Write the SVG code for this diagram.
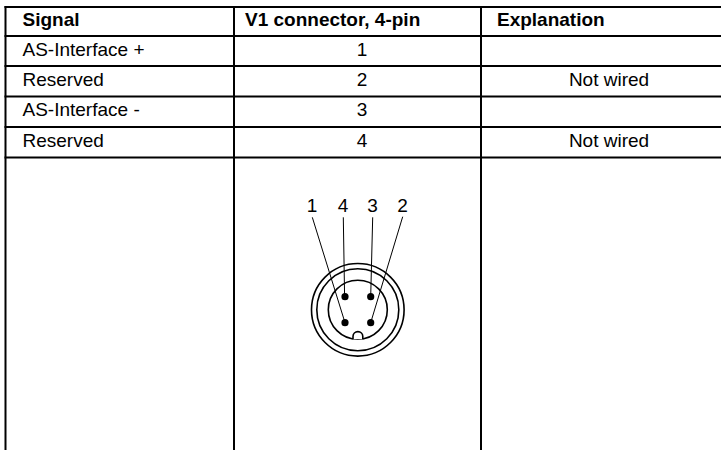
<svg xmlns="http://www.w3.org/2000/svg" width="721" height="450" viewBox="0 0 721 450">
<style>
.grid{stroke:#000;stroke-width:2;fill:none}
.t{font-family:"Liberation Sans",Arial,sans-serif;font-size:19px;fill:#000}
.b{font-weight:bold}
.m{text-anchor:middle}
.thin{stroke:#000;stroke-width:1;fill:none}
.ring{stroke:#000;stroke-width:1.6;fill:none}
</style>
<rect width="721" height="450" fill="#fff"/>
<g id="table-grid" class="grid">
<line x1="4.5" y1="7" x2="721" y2="7"/>
<line x1="4.5" y1="36" x2="721" y2="36"/>
<line x1="4.5" y1="66" x2="721" y2="66"/>
<line x1="4.5" y1="96.5" x2="721" y2="96.5"/>
<line x1="4.5" y1="127" x2="721" y2="127"/>
<line x1="4.5" y1="157.5" x2="721" y2="157.5"/>
<line x1="5.5" y1="6" x2="5.5" y2="450"/>
<line x1="234" y1="6" x2="234" y2="450"/>
<line x1="481" y1="6" x2="481" y2="450"/>
</g>
<g id="header">
<text class="t b" x="22.5" y="26">Signal</text>
<text class="t b" x="245" y="26">V1 connector, 4-pin</text>
<text class="t b" x="497" y="26">Explanation</text>
</g>
<g id="row1">
<text class="t" x="22.5" y="55.5">AS-Interface +</text>
<text class="t m" x="362" y="55.5">1</text>
</g>
<g id="row2">
<text class="t" x="22.5" y="85.5">Reserved</text>
<text class="t m" x="362" y="85.5">2</text>
<text class="t m" x="609" y="85.5">Not wired</text>
</g>
<g id="row3">
<text class="t" x="22.5" y="116">AS-Interface -</text>
<text class="t m" x="362" y="116">3</text>
</g>
<g id="row4">
<text class="t" x="22.5" y="146.5">Reserved</text>
<text class="t m" x="362" y="146.5">4</text>
<text class="t m" x="609" y="146.5">Not wired</text>
</g>
<g id="connector">
<circle class="ring" cx="357.8" cy="309.8" r="46.3"/>
<circle class="ring" cx="357.8" cy="309.8" r="41"/>
<circle class="ring" cx="357.8" cy="309.8" r="29.5"/>
<path d="M353 339.2 L353 336.5 A4.9 4.9 0 0 1 362.8 336.5 L362.8 339.2" fill="#fff" stroke="#000" stroke-width="1.6"/>
<circle cx="345" cy="296.7" r="3.6"/>
<circle cx="370.7" cy="296.7" r="3.6"/>
<circle cx="345" cy="322.7" r="3.6"/>
<circle cx="370.7" cy="322.7" r="3.6"/>
<text class="t m" x="312" y="212">1</text>
<text class="t m" x="343" y="212">4</text>
<text class="t m" x="372.5" y="212">3</text>
<text class="t m" x="402.5" y="212">2</text>
</g>
<g id="connectors" class="thin">
<line x1="312.3" y1="217.3" x2="345" y2="322.7"/>
<line x1="343.3" y1="217.3" x2="344.6" y2="296.7"/>
<line x1="372.7" y1="217.3" x2="370.7" y2="296.7"/>
<line x1="402.7" y1="216.7" x2="370.7" y2="322.7"/>
</g>
</svg>
